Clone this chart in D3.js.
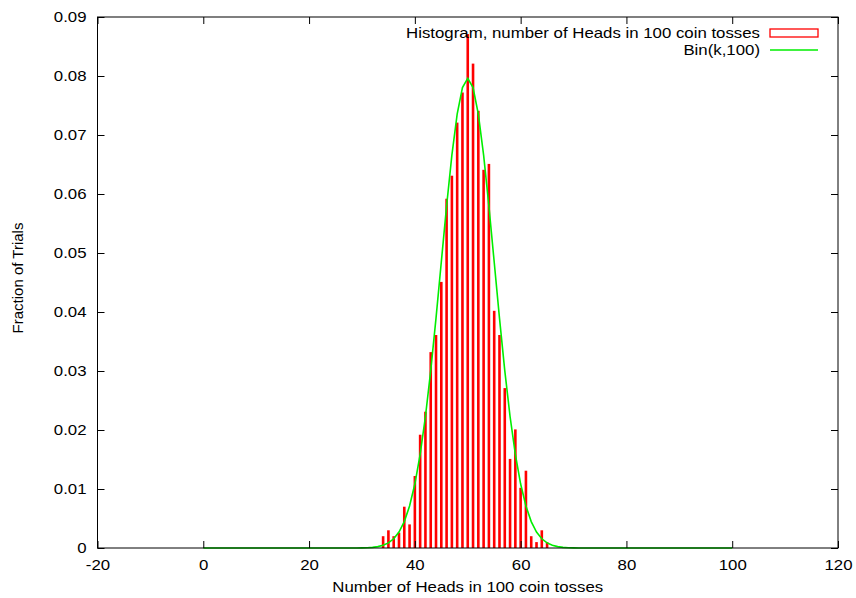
<!DOCTYPE html>
<html>
<head>
<meta charset="utf-8">
<script src="https://cdn.jsdelivr.net/npm/d3@7"></script>
<style>
  html, body { margin: 0; padding: 0; background: #fff; }
  svg { display: block; }
  text { font-family: "Liberation Sans", Arial, Helvetica, sans-serif; font-size: 15px; fill: #000; }
</style>
</head>
<body>
<svg id="chart" width="856" height="598"></svg>
<script>
// ---- data ----
const histK = [34,35,36,37,38,39,40,41,42,43,44,45,46,47,48,49,50,51,52,53,54,55,56,57,58,59,60,61,62,63,64,65];
const histFrac = [0.002,0.003,0.002,0.0026,0.007,0.004,0.0122,0.0192,0.0231,0.0332,0.0361,0.0451,0.0592,0.0631,0.0721,0.0772,0.0871,0.0821,0.0741,0.0641,0.0651,0.0402,0.0361,0.0271,0.0151,0.0201,0.0102,0.0131,0.002,0.001,0.003,0.001];
const binK = [0,29,30,31,32,33,34,35,36,37,38,39,40,41,42,43,44,45,46,47,48,49,50,51,52,53,54,55,56,57,58,59,60,61,62,63,64,65,66,67,68,69,70,71,100];
const binP = [0,0,0.00002,0.00005,0.00011,0.00023,0.00046,0.00086,0.00156,0.0027,0.00447,0.00711,0.01084,0.01587,0.02229,0.03007,0.03895,0.04847,0.05796,0.06659,0.07353,0.07803,0.07959,0.07803,0.07353,0.06659,0.05796,0.04847,0.03895,0.03007,0.02229,0.01587,0.01084,0.00711,0.00447,0.0027,0.00156,0.00086,0.00046,0.00023,0.00011,0.00005,0.00002,0,0];
const xTicks = [-20,0,20,40,60,80,100,120];
const yTicks = [0,0.01,0.02,0.03,0.04,0.05,0.06,0.07,0.08,0.09];
const xTitle = "Number of Heads in 100 coin tosses";
const yTitle = "Fraction of Trials";
const legendLabels = ["Histogram, number of Heads in 100 coin tosses", "Bin(k,100)"];

// ---- layout ----
const L = 97.5, R = 838, T = 17, B = 548;
const SX = 1.12; // horizontal stretch of the reference's lettering
const svg = d3.select("#chart");
const x = d3.scaleLinear().domain([-20,120]).range([L,R]);
const y = d3.scaleLinear().domain([0,0.09]).range([B,T]);

function stretch(sel) {
  sel.each(function() {
    const len = this.getComputedTextLength();
    if (len > 0) d3.select(this).attr("textLength", len * SX).attr("lengthAdjust", "spacingAndGlyphs");
  });
}

// bars
svg.append("g").selectAll("rect").data(histK).enter().append("rect")
  .attr("x", d => x(d) - 1.3)
  .attr("width", 2.6)
  .attr("y", (d,i) => y(histFrac[i]))
  .attr("height", (d,i) => B - y(histFrac[i]))
  .attr("fill", "#ff0000");

// binomial curve
const line = d3.line().x((d,i) => x(binK[i])).y(d => y(d));
svg.append("path").datum(binP)
  .attr("d", line)
  .attr("fill", "none")
  .attr("stroke", "#00ee00")
  .attr("stroke-width", 1.6);

// frame
svg.append("rect").attr("x", L).attr("y", T).attr("width", R-L).attr("height", B-T)
  .attr("fill", "none").attr("stroke", "#000").attr("stroke-width", 1);

// axes (ticks inward, mirrored)
const tl = 7;
const xb = d3.axisBottom(x).tickValues(xTicks).tickSizeInner(-tl).tickSizeOuter(0).tickPadding(11).tickFormat(d => String(d));
const gxb = svg.append("g").attr("transform", `translate(0,${B})`).call(xb);
const gxt = svg.append("g").attr("transform", `translate(0,${T})`).call(d3.axisTop(x).tickValues(xTicks).tickSizeInner(-tl).tickSizeOuter(0).tickFormat(""));
const yl = d3.axisLeft(y).tickValues(yTicks).tickSizeInner(-tl).tickSizeOuter(0).tickPadding(11).tickFormat(d => d === 0 ? "0" : d3.format(".2f")(d));
const gyl = svg.append("g").attr("transform", `translate(${L},0)`).call(yl);
const gyr = svg.append("g").attr("transform", `translate(${R},0)`).call(d3.axisRight(y).tickValues(yTicks).tickSizeInner(-tl).tickSizeOuter(0).tickFormat(""));
[gxb,gxt,gyl,gyr].forEach(g => {
  g.select(".domain").remove();
  g.selectAll("line").attr("stroke", "#000");
  g.selectAll("text").attr("font-size", 15).attr("font-family", "Liberation Sans, Arial, sans-serif").attr("fill", "#000");
});
stretch(gxb.selectAll("text"));
stretch(gyl.selectAll("text"));

// titles
svg.append("text").attr("x", (L+R)/2).attr("y", 592).attr("text-anchor", "middle").text(xTitle).call(stretch);
svg.append("text").attr("transform", `translate(23,278) rotate(-90)`).attr("text-anchor", "middle").text(yTitle);

// legend
const lgX = 760;
svg.append("text").attr("x", lgX).attr("y", 37.5).attr("text-anchor", "end").text(legendLabels[0]).call(stretch);
svg.append("rect").attr("x", 770).attr("y", 29).attr("width", 48).attr("height", 8)
  .attr("fill", "none").attr("stroke", "#ff0000").attr("stroke-width", 1.3);
svg.append("text").attr("x", lgX).attr("y", 54.5).attr("text-anchor", "end").text(legendLabels[1]).call(stretch);
svg.append("line").attr("x1", 770).attr("x2", 818).attr("y1", 50).attr("y2", 50)
  .attr("stroke", "#00ee00").attr("stroke-width", 1.6);
</script>
</body>
</html>
